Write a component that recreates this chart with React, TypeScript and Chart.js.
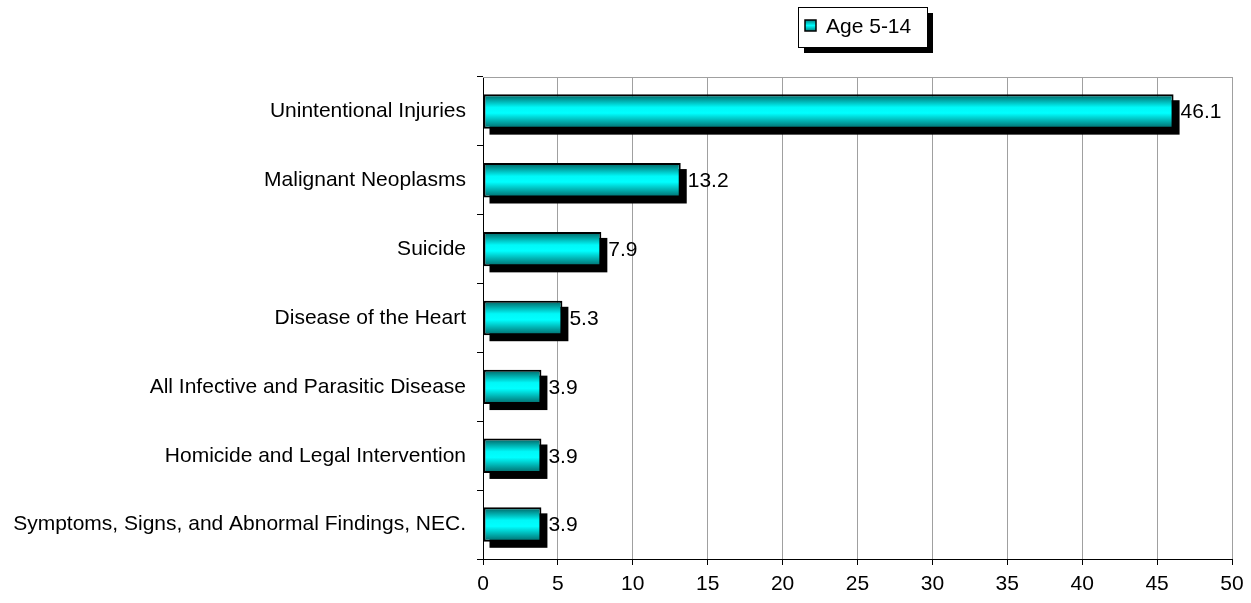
import React, { useEffect, useRef } from "react";
import { Chart, registerables } from "chart.js";

Chart.register(...registerables);

const categories = [
  "Unintentional Injuries",
  "Malignant Neoplasms",
  "Suicide",
  "Disease of the Heart",
  "All Infective and Parasitic Disease",
  "Homicide and Legal Intervention",
  "Symptoms, Signs, and Abnormal Findings, NEC.",
];
const values = [46.1, 13.2, 7.9, 5.3, 3.9, 3.9, 3.9];
const seriesLabel = "Age 5-14";
const xTicks = [0, 5, 10, 15, 20, 25, 30, 35, 40, 45, 50];

const FONT = "'Liberation Sans', Arial, sans-serif";
const FS = 21;

const decorPlugin = {
  id: "decor",
  beforeDatasetsDraw(chart: any) {
    const ctx = chart.ctx;
    const ca = chart.chartArea;
    ctx.save();
    // plot area top border
    ctx.strokeStyle = "#a0a0a0";
    ctx.lineWidth = 1;
    ctx.beginPath();
    ctx.moveTo(ca.left, Math.round(ca.top) + 0.5);
    ctx.lineTo(ca.right, Math.round(ca.top) + 0.5);
    ctx.stroke();
    // bar shadows
    const meta = chart.getDatasetMeta(0);
    ctx.fillStyle = "#000";
    meta.data.forEach((el: any) => {
      const p = el.getProps(["x", "y", "base", "height"], true);
      const off = 6;
      ctx.fillRect(p.base + off, p.y - p.height / 2 + off, p.x - p.base, p.height);
    });
    ctx.restore();
  },
  afterDatasetsDraw(chart: any) {
    const ctx = chart.ctx;
    const meta = chart.getDatasetMeta(0);
    ctx.save();
    ctx.fillStyle = "#000";
    ctx.font = `${FS}px ${FONT}`;
    ctx.textAlign = "left";
    ctx.textBaseline = "middle";
    meta.data.forEach((el: any, i: number) => {
      const p = el.getProps(["x", "y"], true);
      ctx.fillText(String(values[i]), p.x + 7, p.y + 1);
    });
    ctx.restore();
  },
  afterDraw(chart: any) {
    const ctx = chart.ctx;
    ctx.save();
    const bx = 798, by = 7, bw = 129, bh = 40;
    // legend shadow
    ctx.fillStyle = "#000";
    ctx.fillRect(bx + 6, by + 6, bw, bh);
    ctx.fillStyle = "#fff";
    ctx.fillRect(bx, by, bw, bh);
    ctx.strokeStyle = "#000";
    ctx.lineWidth = 1;
    ctx.strokeRect(bx + 0.5, by + 0.5, bw, bh);
    // swatch
    const sx = 805, sy = 20, ss = 11;
    const g = ctx.createLinearGradient(0, sy, 0, sy + ss);
    g.addColorStop(0, "#008080");
    g.addColorStop(0.5, "#00ffff");
    g.addColorStop(1, "#008080");
    ctx.fillStyle = g;
    ctx.fillRect(sx, sy, ss, ss);
    ctx.lineWidth = 1.5;
    ctx.strokeRect(sx, sy, ss, ss);
    ctx.fillStyle = "#000";
    ctx.font = `${FS}px ${FONT}`;
    ctx.textAlign = "left";
    ctx.textBaseline = "middle";
    ctx.fillText(seriesLabel, 826, 27);
    ctx.restore();
  },
};

export default function App() {
  const ref = useRef<HTMLCanvasElement>(null);
  useEffect(() => {
    if (!ref.current) return;
    const chart = new Chart(ref.current, {
      type: "bar",
      data: {
        labels: categories,
        datasets: [
          {
            label: seriesLabel,
            data: values,
            borderColor: "#000",
            borderWidth: 2,
            borderSkipped: false,
            barPercentage: 0.5,
            categoryPercentage: 1,
            backgroundColor: (c: any) => {
              const ch = c.chart;
              const ys = ch.scales && ch.scales.y;
              if (!ys || c.dataIndex === undefined) return "#00ffff";
              const cy = ys.getPixelForValue(c.dataIndex);
              const h = (ys.height / categories.length) * 0.5;
              if (!isFinite(cy) || !isFinite(h) || h <= 0) return "#00ffff";
              const g = ch.ctx.createLinearGradient(0, cy - h / 2, 0, cy + h / 2);
              g.addColorStop(0, "#005f5f");
              g.addColorStop(0.38, "#00f8f8");
              g.addColorStop(0.55, "#00ffff");
              g.addColorStop(1, "#006666");
              return g;
            },
          },
        ],
      },
      options: {
        indexAxis: "y",
        animation: false,
        responsive: false,
        maintainAspectRatio: false,
        layout: { padding: { top: 77, right: 19, bottom: 0, left: 0 } },
        plugins: { legend: { display: false }, tooltip: { enabled: false } },
        scales: {
          x: {
            min: 0,
            max: 50,
            afterBuildTicks: (s: any) => {
              s.ticks = xTicks.map((v) => ({ value: v }));
            },
            afterFit: (s: any) => {
              s.height = 44;
            },
            grid: { color: "#a0a0a0", tickColor: "#000", tickLength: 6, lineWidth: 1 },
            border: { color: "#000", width: 1 },
            ticks: { color: "#000", font: { family: FONT, size: FS }, padding: 7, maxRotation: 0 },
          },
          y: {
            afterFit: (s: any) => {
              s.width = 483;
            },
            grid: { drawOnChartArea: false, tickColor: "#000", tickLength: 6, offset: true },
            border: { color: "#000", width: 1 },
            ticks: { color: "#000", font: { family: FONT, size: FS }, padding: 11 },
          },
        },
      },
      plugins: [decorPlugin],
    } as any);
    return () => chart.destroy();
  }, []);
  return (
    <div style={{ position: "fixed", left: 0, top: 0, width: 1251, height: 603, background: "#fff" }}>
      <canvas ref={ref} width={1251} height={603} style={{ width: 1251, height: 603, display: "block" }} />
    </div>
  );
}
